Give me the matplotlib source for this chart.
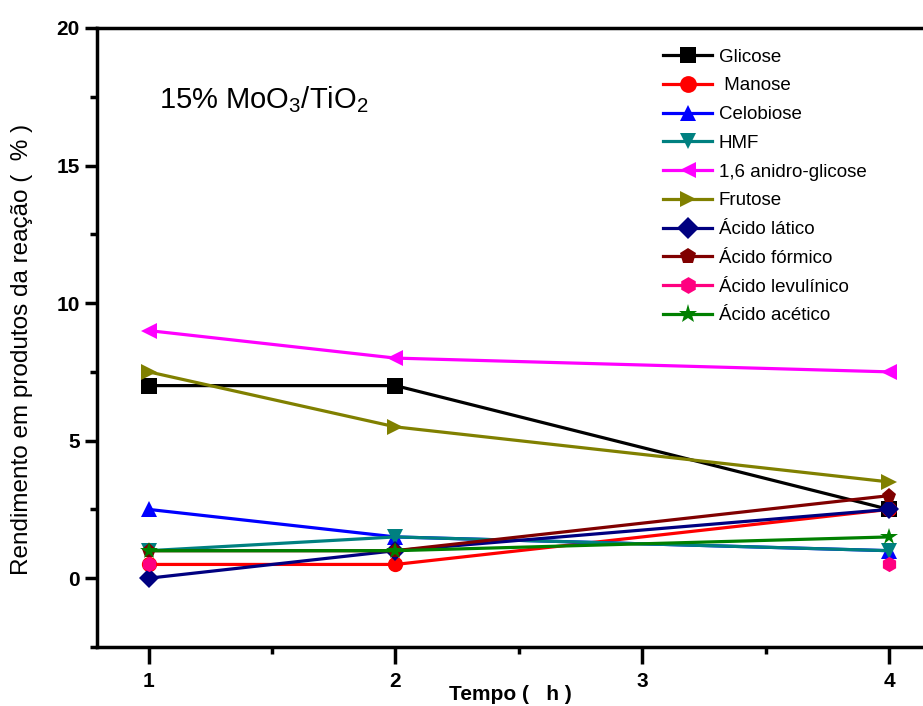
import numpy as np
import matplotlib
matplotlib.use("Agg")
import matplotlib.pyplot as plt
from matplotlib.ticker import MultipleLocator

plt.rcParams["font.family"] = ["Liberation Sans", "DejaVu Sans"]
plt.rcParams["mathtext.fontset"] = "custom"
plt.rcParams["mathtext.rm"] = "Liberation Sans"

# ── Dados ────────────────────────────────────────────────────────────────
tempo = [1, 2, 4]
glicose     = [7.0, 7.0, 2.5]
manose      = [0.5, 0.5, 2.5]
celobiose   = [2.5, 1.5, 1.0]
hmf         = [1.0, 1.5, 1.0]
anidro      = [9.0, 8.0, 7.5]
frutose     = [7.5, 5.5, 3.5]
ac_latico   = [0.0, 1.0, 2.5]
ac_formico  = [1.0, 1.0, 3.0]
ac_levulin  = [0.5, np.nan, 0.5]
ac_acetico  = [1.0, 1.0, 1.5]

series = [
    ("Glicose",            glicose,    "#000000", "s"),
    (" Manose",            manose,     "#ff0000", "o"),
    ("Celobiose",          celobiose,  "#0000ff", "^"),
    ("HMF",                hmf,        "#008080", "v"),
    ("1,6 anidro-glicose", anidro,     "#ff00ff", "<"),
    ("Frutose",            frutose,    "#808000", ">"),
    ("Ácido lático",       ac_latico,  "#000080", "D"),
    ("Ácido fórmico",      ac_formico, "#800000", "p"),
    ("Ácido levulínico",   ac_levulin, "#ff0080", "h"),
    ("Ácido acético",      ac_acetico, "#008000", "*"),
]

fig = plt.figure(figsize=(9.23, 7.06), dpi=100, facecolor="white")
ax = fig.add_axes([0.105, 0.0836, 0.895, 0.8768])

for label, vals, color, mk in series:
    ms = 11
    if mk == "D":
        ms = 10
    if mk == "*":
        ms = 13
    ax.plot(tempo, vals, color=color, marker=mk, markersize=ms,
            linewidth=2.3, label=label, markeredgewidth=0)

ax.set_xlim(0.79, 4.138)
ax.set_ylim(-2.5, 20)
ax.xaxis.set_major_locator(MultipleLocator(1))
ax.xaxis.set_minor_locator(MultipleLocator(0.5))
ax.set_yticks([0, 5, 10, 15, 20])
ax.yaxis.set_minor_locator(MultipleLocator(2.5))

for s in ["left", "bottom", "top"]:
    ax.spines[s].set_linewidth(2.5)
ax.spines["right"].set_visible(False)

ax.tick_params(axis="both", which="major", direction="out", width=2.5,
               length=9, labelsize=15)
ax.tick_params(axis="both", which="minor", direction="out", width=2.5,
               length=5)
ax.tick_params(axis="x", which="major", length=12, pad=6, labelsize=15)
for t in ax.get_xticklabels() + ax.get_yticklabels():
    t.set_fontweight("bold")

ax.set_xlabel("Tempo (   h )", fontsize=15, fontweight="bold")
ax.xaxis.label.set_va("center")
ax.xaxis.set_label_coords(0.5, -0.077)
ax.set_ylabel("Rendimento em produtos da reação (  % )", fontsize=17.5)
ax.yaxis.label.set_va("center")
ax.yaxis.set_label_coords(-0.091, 0.48)

ax.text(0.075, 0.885, r"15% MoO$_3$/TiO$_2$", transform=ax.transAxes,
        fontsize=21, ha="left", va="center")

ax.legend(loc="upper left", bbox_to_anchor=(0.672, 0.985), frameon=False,
          fontsize=13.5, handlelength=2.6, handletextpad=0.35,
          labelspacing=0.62, borderaxespad=0.2, markerscale=1.1)

plt.savefig("out.png", dpi=100, facecolor="white")
